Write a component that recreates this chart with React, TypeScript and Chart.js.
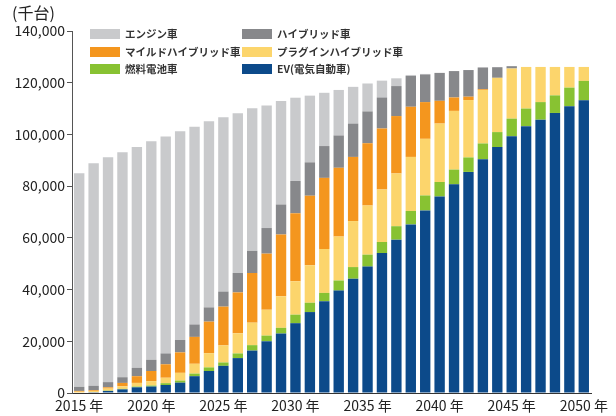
import React, { useEffect, useRef } from "react";
import { Chart, registerables } from "chart.js";

Chart.register(...registerables);

const years = [
  "2015", "2016", "2017", "2018", "2019", "2020", "2021", "2022", "2023", "2024",
  "2025", "2026", "2027", "2028", "2029", "2030", "2031", "2032", "2033", "2034",
  "2035", "2036", "2037", "2038", "2039", "2040", "2041", "2042", "2043", "2044",
  "2045", "2046", "2047", "2048", "2049", "2050",
];
const shownYears = ["2015", "2020", "2025", "2030", "2035", "2040", "2045", "2050"];
const yTicks = [0, 20000, 40000, 60000, 80000, 100000, 120000, 140000];

const ev = [200, 300, 800, 1400, 2200, 2500, 3100, 4000, 6500, 8500, 10500, 13500, 16400, 20000, 23000, 27000, 31300, 35500, 39600, 44200, 48900, 54100, 59300, 65200, 70600, 76000, 80700, 85500, 90400, 95100, 99300, 103200, 105700, 108300, 110900, 113200];
const fuelCell = [0, 0, 100, 200, 300, 400, 700, 800, 1000, 1400, 1300, 1800, 2100, 2200, 2200, 3300, 3600, 3200, 3900, 4500, 4600, 4300, 5200, 5200, 5800, 5600, 5700, 5600, 6100, 5800, 6800, 6800, 6800, 6800, 7200, 7500];
const plugin = [300, 500, 800, 1000, 1400, 1700, 2100, 3000, 3800, 5500, 6600, 7800, 8700, 10000, 12200, 12900, 14500, 17000, 17000, 17800, 19000, 20300, 20400, 20900, 21900, 22600, 22700, 22200, 20700, 21000, 19400, 16100, 13600, 11000, 8000, 5400];
const mild = [300, 300, 500, 1300, 2600, 3900, 5200, 7900, 10400, 12200, 15000, 15800, 19200, 21700, 23900, 26300, 26900, 27500, 26600, 24800, 24100, 23600, 22200, 19400, 14200, 8800, 5200, 1300, 300, 0, 0, 0, 0, 0, 0, 0];
const hybrid = [1600, 1700, 2000, 2200, 3200, 4300, 4200, 4800, 4800, 5500, 5800, 7500, 8600, 9900, 11600, 12500, 12900, 12300, 12500, 12900, 12300, 12000, 11600, 11900, 10700, 10800, 10200, 10300, 8400, 4100, 900, 0, 0, 0, 0, 0];
const engine = [82600, 86100, 87000, 87000, 85400, 84600, 83900, 80700, 76500, 72000, 67400, 61800, 55100, 47400, 40000, 32200, 25800, 20600, 17600, 14200, 10800, 6500, 3000, 400, 200, 0, 0, 0, 0, 0, 0, 0, 0, 0, 0, 0];

const FONT = '"Noto Sans CJK JP", "Noto Sans", sans-serif';

// legend layout: [datasetIndex, column, row]
const legendLayout: [number, number, number][] = [
  [5, 0, 0], [4, 1, 0],
  [3, 0, 1], [2, 1, 1],
  [1, 0, 2], [0, 1, 2],
];

const customLegend = {
  id: "customLegend",
  afterDraw(chart: any) {
    const ctx = chart.ctx;
    ctx.save();
    const colX = [90, 242];
    const rowY = [29, 47, 64];
    ctx.font = `bold 10.5px ${FONT}`;
    ctx.textBaseline = "middle";
    ctx.textAlign = "left";
    legendLayout.forEach(([di, c, r]) => {
      const ds = chart.data.datasets[di];
      ctx.fillStyle = ds.backgroundColor;
      ctx.fillRect(colX[c], rowY[r], 30, 10);
      ctx.fillStyle = "#333";
      ctx.fillText(ds.label, colX[c] + 35, rowY[r] + 5);
    });
    ctx.font = `16px ${FONT}`;
    ctx.fillStyle = "#222";
    ctx.fillText("(千台)", 12, 13);
    ctx.restore();
  },
};

export default function App() {
  const ref = useRef<HTMLCanvasElement>(null);
  useEffect(() => {
    document.body.style.margin = "0";
    const canvas = ref.current!;
    const chart = new Chart(canvas, {
      type: "bar",
      data: {
        labels: years,
        datasets: [
          { label: "EV(電気自動車)", data: ev, backgroundColor: "#0c4a8a" },
          { label: "燃料電池車", data: fuelCell, backgroundColor: "#88c232" },
          { label: "プラグインハイブリッド車", data: plugin, backgroundColor: "#fcd56c" },
          { label: "マイルドハイブリッド車", data: mild, backgroundColor: "#f4961e" },
          { label: "ハイブリッド車", data: hybrid, backgroundColor: "#87888b" },
          { label: "エンジン車", data: engine, backgroundColor: "#c9cacc" },
        ],
      },
      options: {
        animation: false,
        responsive: false,
        maintainAspectRatio: false,
        layout: { padding: { left: 0, right: 25, top: 31, bottom: 0 } },
        datasets: {
          bar: { barPercentage: 0.72, categoryPercentage: 1, borderWidth: 0 },
        },
        plugins: {
          legend: { display: false },
          tooltip: { enabled: false },
        },
        scales: {
          x: {
            stacked: true,
            grid: { display: false, drawTicks: false },
            border: { display: true, color: "#333", width: 1 },
            ticks: {
              autoSkip: false,
              maxRotation: 0,
              minRotation: 0,
              padding: 4,
              color: "#222",
              font: { family: FONT, size: 14 },
              callback: function (this: any, _v: any, i: number) {
                const y = years[i];
                return shownYears.includes(y) ? `${y} 年` : "";
              },
            },
            afterFit: (s: any) => {
              s.height = 23;
            },
          },
          y: {
            stacked: true,
            min: 0,
            max: 140000,
            afterBuildTicks: (s: any) => {
              s.ticks = yTicks.map((v) => ({ value: v }));
            },
            grid: {
              drawOnChartArea: false,
              drawTicks: true,
              tickLength: 5,
              color: "#555",
            },
            border: { display: true, color: "#555", width: 1 },
            ticks: {
              padding: 2,
              color: "#222",
              font: { family: FONT, size: 14 },
              callback: (v: any) => Number(v).toLocaleString("en-US"),
            },
            afterFit: (s: any) => {
              s.width = 72;
            },
          },
        },
      },
      plugins: [customLegend],
    });
    return () => chart.destroy();
  }, []);
  return (
    <div style={{ width: 616, height: 416, background: "#fff" }}>
      <canvas ref={ref} width={616} height={416} />
    </div>
  );
}
